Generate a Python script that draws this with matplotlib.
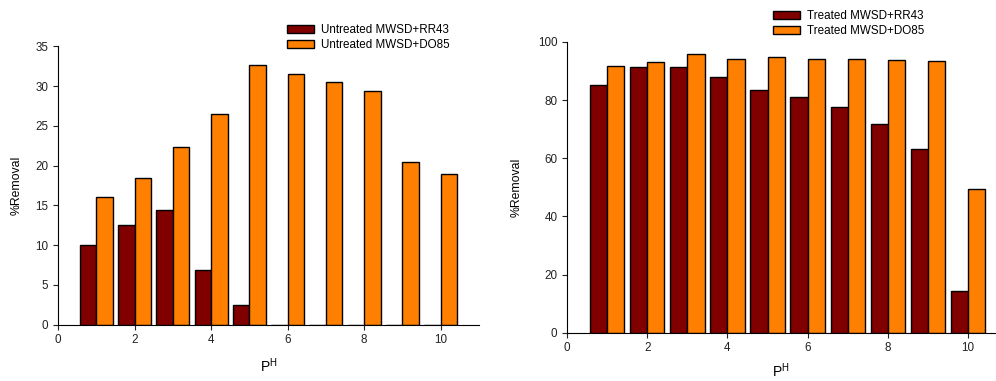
import numpy as np
import matplotlib.pyplot as plt

plt.rcParams['font.family'] = ['Liberation Sans', 'DejaVu Sans']
plt.rcParams['mathtext.default'] = 'regular'

# ---- data
ph = np.arange(1, 11)
untreated_rr43 = [10.0, 12.5, 14.4, 6.9, 2.5, 0, 0, 0, 0, 0]
untreated_do85 = [16.0, 18.5, 22.4, 26.5, 32.6, 31.5, 30.5, 29.4, 20.5, 18.9]
treated_rr43 = [85.3, 91.4, 91.5, 87.8, 83.6, 81.2, 77.5, 71.8, 63.3, 14.5]
treated_do85 = [91.7, 93.1, 95.8, 94.1, 94.7, 94.1, 94.0, 93.7, 93.4, 49.4]

red = '#800000'
orange = '#FF8000'
w = 0.43

fig = plt.figure(figsize=(9.96, 3.81), dpi=100)
ax1 = fig.add_axes([58/996, 1-324.7/381, (479-58)/996, (324.7-46.3)/381])
ax2 = fig.add_axes([567/996, 1-332.7/381, (995-567)/996, (332.7-42)/381])


def draw(ax, a, b, la, lb, ylim, yticks, xmax, legpos):
    ax.bar(ph - w/2, a, w, color=red, edgecolor='black', linewidth=1.0, label=la)
    ax.bar(ph + w/2, b, w, color=orange, edgecolor='black', linewidth=1.0, label=lb)
    ax.set_xlim(0, xmax)
    ax.set_ylim(*ylim)
    ax.set_yticks(yticks)
    ax.set_xticks([0, 2, 4, 6, 8, 10])
    for s in ['top', 'right']:
        ax.spines[s].set_visible(False)
    ax.tick_params(labelsize=8.4, length=3.5, width=0.8, colors='#222222')
    ax.set_ylabel('%Removal', fontsize=8.8)
    ax.set_xlabel('P$^{H}$', fontsize=10)
    ax.legend(loc='upper left', bbox_to_anchor=legpos, bbox_transform=fig.transFigure,
              frameon=False, fontsize=8.4, borderpad=0, borderaxespad=0,
              handlelength=2.35, handleheight=0.7, handletextpad=0.55,
              labelspacing=0.25)


draw(ax1, untreated_rr43, untreated_do85, 'Untreated MWSD+RR43', 'Untreated MWSD+DO85',
     (0, 35), np.arange(0, 36, 5), 11.0, (287/996, 1-24/381))
draw(ax2, treated_rr43, treated_do85, 'Treated MWSD+RR43', 'Treated MWSD+DO85',
     (0, 100), np.arange(0, 101, 20), 10.67, (773/996, 1-10/381))

ax1.yaxis.set_label_coords(-0.083, 0.5)
ax1.xaxis.set_label_coords(0.5, -0.115)
ax2.yaxis.set_label_coords(-0.103, 0.5)
ax2.xaxis.set_label_coords(0.5, -0.098)

fig.savefig('out.png', dpi=100)
